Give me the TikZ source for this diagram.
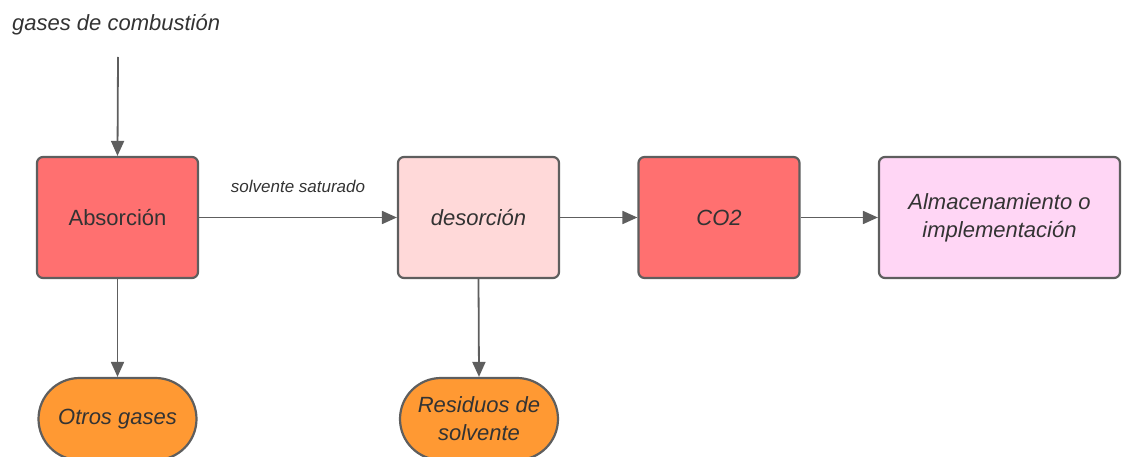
\documentclass[tikz,border=0pt]{standalone}
\usepackage{fontspec}
\setmainfont{Liberation Sans}
\usetikzlibrary{arrows.meta,shapes.misc}
\definecolor{edgegray}{HTML}{5E5E5E}
\definecolor{txtgray}{HTML}{333333}
\definecolor{redfill}{HTML}{FF7070}
\definecolor{palered}{HTML}{FFD9D9}
\definecolor{palepink}{HTML}{FFD6F5}
\definecolor{orangefill}{HTML}{FF9933}
\tikzset{
  boxnode/.style={draw=edgegray, line width=2.2pt, rounded corners=6pt, minimum width=161pt, minimum height=121pt, inner sep=2pt, text=txtgray, align=center, font=\fontsize{22}{28}\selectfont},
  stadium/.style={draw=edgegray, line width=2.2pt, rounded rectangle, fill=orangefill, minimum width=162pt, minimum height=82pt, inner sep=2pt, text=txtgray, align=center, font=\fontsize{22}{28}\selectfont\itshape},
  flow/.style={draw=edgegray, line width=1.8pt, -{Triangle[length=15pt,width=13pt]}},
  lbl/.style={text=txtgray, inner sep=0pt}
}
\begin{document}
\begin{tikzpicture}[x=1pt,y=-1pt]
\useasboundingbox (0,0) rectangle (1122,457);
\clip (0,0) rectangle (1122,457);
\node[lbl, anchor=west, font=\fontsize{22}{26}\selectfont\itshape] (gases) at (12,25) {gases de combustión};
\coordinate (gin) at (118,57);
\node[boxnode, fill=redfill] (abs) at (117.5,217.5) {Absorción};
\node[boxnode, fill=palered, font=\fontsize{22}{28}\selectfont\itshape] (des) at (478.5,217.5) {desorción};
\node[boxnode, fill=redfill, font=\fontsize{22}{28}\selectfont\itshape] (co2) at (719,217.5) {CO2};
\node[boxnode, fill=palepink, minimum width=241pt, font=\fontsize{22}{28}\selectfont\itshape] (alm) at (999.5,217.5) {Almacenamiento o\\implementación};
\node[stadium] (otros) at (117.5,419) {Otros gases};
\node[stadium] (resid) at (479,419) {Residuos de\\solvente};
\node[lbl, font=\fontsize{17}{20}\selectfont\itshape] (solv) at (298,186) {solvente saturado};
\draw[flow] (gin) -- (abs.north);
\draw[flow] (abs.east) -- (des.west);
\draw[flow] (des.east) -- (co2.west);
\draw[flow] (co2.east) -- (alm.west);
\draw[flow] (abs.south) -- (otros.north);
\draw[flow] (des.south) -- (resid.north);
\end{tikzpicture}
\end{document}
